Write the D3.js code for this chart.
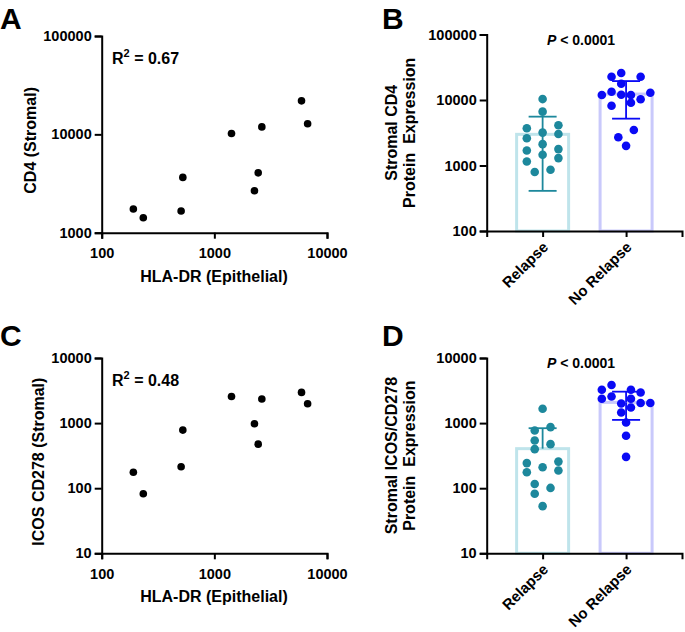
<!DOCTYPE html>
<html><head><meta charset="utf-8">
<script src="https://cdn.jsdelivr.net/npm/d3@7"></script>
<style>
body{margin:0;background:#fff}
svg text{font-family:"Liberation Sans",Arial,Helvetica,sans-serif;font-weight:bold;fill:#000}
</style></head><body>
<svg id="chart" width="685" height="632"></svg>
<script>
// ---------- DATA ----------
// Panels A & C: per-sample scatter (HLA-DR epithelial vs stromal marker)
const hlaDR       = [191, 234, 507, 525, 1420, 2270, 2450, 2640, 5940, 6730];
const cd4Stromal  = [1740, 1420, 1660, 3650, 10200, 2670, 4060, 11900, 21900, 12800];
const icosStromal = [176, 82, 213, 780, 2560, 975, 475, 2340, 2960, 1980];
const r2Labels    = ["0.67", "0.48"];

// Panels B & D: groups
const groups = ["Relapse", "No Relapse"];

// Panel B: stromal CD4
const cd4Relapse       = [10330, 6640, 3710, 4120, 2610, 3180, 3030, 1690, 2120, 1780, 1150, 1456, 1297, 794, 860];
const cd4RelapseSlot   = [0, 0, -1, 1, -1, 0, 1, -1, 0, 1, -1, 0, 1, -0.5, 0.5];
const cd4NoRelapse     = [25770, 22630, 22630, 17700, 13370, 12040, 11900, 11900, 12900, 8180, 9100, 10260, 3490, 2700, 1995];
const cd4NoRelapseSlot = [-0.5, -1.5, 1.5, -0.5, -1.5, -0.5, -2.5, 0.5, 2.5, -1.5, 0.5, 1.5, 0.8, -0.8, 0];
const cd4Mean = [2990, 12320];
const cd4SD   = [2580, 7130];

// Panel D: stromal ICOS/CD278
const icosRelapse       = [1660, 769, 867, 540, 475, 398, 243, 210, 256, 176, 187, 116, 101, 82, 53];
const icosRelapseSlot   = [0, -0.5, 0.5, -0.5, 0.5, -0.5, -1, 0, 1, -1, 1, -0.5, 0.5, -0.5, 0];
const icosNoRelapse     = [3846, 3252, 3252, 2958, 2565, 2364, 2364, 2004, 2032, 2032, 1738, 1455, 1020, 639, 303];
const icosNoRelapseSlot = [-1.5, -2.5, 0.5, 1.5, -1.5, -2.5, 0.5, -0.5, 1.5, 2.5, 0.5, -0.5, 0, 0, 0];
const icosMean = [405, 2080];
const icosSD   = [430, 960];

const pLabel = "< 0.0001";

// ---------- STYLE ----------
const groupDot    = ["#1d889c", "#0a0af5"];
const groupStroke = ["#bfe4eb", "#c9c9fb"];
const slotUnit    = [15.8, 9.7];

const svg = d3.select("#chart");

function styleAxis(g) {
  g.selectAll("path.domain").attr("stroke", "#000").attr("stroke-width", 2);
  g.selectAll(".tick line").attr("stroke", "#000").attr("stroke-width", 2);
  g.selectAll(".tick text").style("font-size", "14.5px").attr("fill", "#000");
}

function panelLetter(letter, x, y) {
  svg.append("text").attr("x", x).attr("y", y).style("font-size", "30px").text(letter);
}

function yTitle(lines, cx, cy) {
  const t = svg.append("text")
    .attr("transform", `translate(${cx},${cy}) rotate(-90)`)
    .attr("text-anchor", "middle")
    .style("font-size", "16px")
    .attr("xml:space", "preserve");
  lines.forEach((l, i) => {
    t.append("tspan").attr("x", 0).attr("dy", i === 0 ? 0 : 18).text(l);
  });
}

function scatterPanel(cfg) {
  const x = d3.scaleLog().domain([100, 10000]).range([101.7, 327]);
  const y = d3.scaleLog().domain(cfg.yDomain).range(cfg.yRange);
  const axisY = cfg.yRange[0];

  svg.append("g").attr("transform", `translate(0,${axisY})`)
    .call(d3.axisBottom(x).tickValues([100, 1000, 10000]).tickFormat(d3.format("d")).tickSizeOuter(0).tickSize(6).tickPadding(9))
    .call(styleAxis);
  svg.append("g").attr("transform", `translate(101.7,0)`)
    .call(d3.axisLeft(y).tickValues(cfg.yTicks).tickFormat(d3.format("d")).tickSizeOuter(0).tickSize(7).tickPadding(3))
    .call(styleAxis);

  svg.append("g").selectAll("circle")
    .data(hlaDR.map((d, i) => [d, cfg.ys[i]]))
    .join("circle")
    .attr("cx", d => x(d[0])).attr("cy", d => y(d[1])).attr("r", 3.8).attr("fill", "#000");

  const r2 = svg.append("text").attr("x", 112).attr("y", cfg.yRange[1] + 28).style("font-size", "16px");
  r2.append("tspan").text("R");
  r2.append("tspan").attr("dy", -7).style("font-size", "11px").text("2");
  r2.append("tspan").attr("dy", 7).text(" = " + cfg.r2);

  svg.append("text").attr("x", 214).attr("y", axisY + 49).attr("text-anchor", "middle")
    .style("font-size", "16px").text("HLA-DR (Epithelial)");
  yTitle([cfg.yLabel], cfg.yLabelX, (cfg.yRange[0] + cfg.yRange[1]) / 2 + 6);
}

function barPanel(cfg) {
  const x = d3.scalePoint().domain(groups).range([486.7, 682]).padding(0.67);
  const y = d3.scaleLog().domain(cfg.yDomain).range(cfg.yRange);
  const axisY = cfg.yRange[0];
  const barW = 52;

  const g = svg.append("g");
  g.selectAll("rect").data(groups).join("rect")
    .attr("x", d => x(d) - barW / 2)
    .attr("y", (d, i) => y(cfg.mean[i]))
    .attr("width", barW)
    .attr("height", (d, i) => axisY - y(cfg.mean[i]))
    .attr("fill", "#fff")
    .attr("stroke", (d, i) => groupStroke[i])
    .attr("stroke-width", 3);

  groups.forEach((grp, i) => {
    const cx = x(grp), m = cfg.mean[i], s = cfg.sd[i];
    const ends = [m + s];
    if (m - s > cfg.yDomain[0]) ends.push(m - s);
    ends.forEach(e => {
      g.append("line").attr("x1", cx).attr("x2", cx).attr("y1", y(m)).attr("y2", y(e))
        .attr("stroke", groupDot[i]).attr("stroke-width", 1.8);
      g.append("line").attr("x1", cx - 14).attr("x2", cx + 14).attr("y1", y(e)).attr("y2", y(e))
        .attr("stroke", groupDot[i]).attr("stroke-width", 1.8);
    });
  });

  [[cfg.relapse, cfg.relapseSlot], [cfg.noRelapse, cfg.noRelapseSlot]].forEach(([vals, slots], i) => {
    g.append("g").selectAll("circle").data(vals).join("circle")
      .attr("cx", (d, j) => x(groups[i]) + slots[j] * slotUnit[i])
      .attr("cy", d => y(d))
      .attr("r", 4.3)
      .attr("fill", groupDot[i]);
  });

  const ax = svg.append("g").attr("transform", `translate(0,${axisY})`)
    .call(d3.axisBottom(x).tickSizeOuter(0).tickSize(6))
    .call(styleAxis);
  ax.selectAll(".tick text")
    .attr("text-anchor", "end")
    .attr("dy", null)
    .attr("y", 0)
    .attr("transform", "translate(6,17) rotate(-45)")
    .style("font-size", "15px");

  svg.append("g").attr("transform", `translate(486.7,0)`)
    .call(d3.axisLeft(y).tickValues(cfg.yTicks).tickFormat(d3.format("d")).tickSizeOuter(0).tickSize(7).tickPadding(3))
    .call(styleAxis);

  const p = svg.append("text").attr("x", 581).attr("y", cfg.yRange[1] + 10)
    .attr("text-anchor", "middle").style("font-size", "14px");
  p.append("tspan").style("font-style", "italic").text("P");
  p.append("tspan").text(" " + pLabel);

  yTitle(cfg.yLabel, 397, (cfg.yRange[0] + cfg.yRange[1]) / 2);
}

// ---------- PANELS ----------
panelLetter("A", 0, 29);
scatterPanel({ ys: cd4Stromal, yDomain: [1000, 100000], yRange: [232.7, 36], yTicks: [1000, 10000, 100000],
  yLabel: "CD4 (Stromal)", yLabelX: 36, r2: r2Labels[0] });

panelLetter("B", 382, 29);
barPanel({ yDomain: [100, 100000], yRange: [231, 34.5], yTicks: [100, 1000, 10000, 100000],
  relapse: cd4Relapse, relapseSlot: cd4RelapseSlot, noRelapse: cd4NoRelapse, noRelapseSlot: cd4NoRelapseSlot,
  mean: cd4Mean, sd: cd4SD, yLabel: ["Stromal CD4", "Protein  Expression"] });

panelLetter("C", 0, 346);
scatterPanel({ ys: icosStromal, yDomain: [10, 10000], yRange: [553.3, 358], yTicks: [10, 100, 1000, 10000],
  yLabel: "ICOS CD278 (Stromal)", yLabelX: 44, r2: r2Labels[1] });

panelLetter("D", 382, 346);
barPanel({ yDomain: [10, 10000], yRange: [553.3, 358], yTicks: [10, 100, 1000, 10000],
  relapse: icosRelapse, relapseSlot: icosRelapseSlot, noRelapse: icosNoRelapse, noRelapseSlot: icosNoRelapseSlot,
  mean: icosMean, sd: icosSD, yLabel: ["Stromal ICOS/CD278", "Protein  Expression"] });
</script>
</body></html>
